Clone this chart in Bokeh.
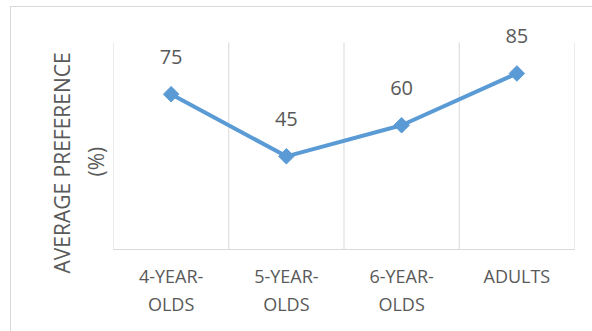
from bokeh.plotting import figure
from bokeh.models import FactorRange, Range1d, ColumnDataSource, LabelSet, Title
from bokeh.core.properties import value
from bokeh.embed import file_html
from bokeh.resources import INLINE
import numpy as np

categories = ["4-YEAR-\nOLDS", "5-YEAR-\nOLDS", "6-YEAR-\nOLDS", "ADULTS"]
values = [75, 45, 60, 85]
value_labels = ["75", "45", "60", "85"]
y_title_1 = "AVERAGE PREFERENCE"
y_title_2 = "(%)"

FONT = "Open Sans"
GRAY = "#595959"
GRID = "#d9d9d9"
BLUE = "#5b9bd5"

Y_MAX = 100
p = figure(width=582, height=325, output_backend="svg", toolbar_location=None,
           x_range=FactorRange(factors=categories, range_padding=0),
           y_range=Range1d(0, 110.1), y_axis_location=None,
           min_border_left=102, min_border_right=19, min_border_top=14, min_border_bottom=83)
p.margin = (6, 0, 0, 10)
p.styles = {"border-left": "1px solid #d9d9d9", "border-top": "1px solid #d9d9d9"}
p.outline_line_color = None
p.background_fill_color = "white"
p.border_fill_color = "white"
p.xgrid.grid_line_color = None
p.ygrid.grid_line_color = None

# vertical grid lines at category boundaries, spanning 0..100
bounds = list(range(len(categories) + 1))
p.segment(x0=bounds, y0=[0] * len(bounds), x1=bounds, y1=[Y_MAX] * len(bounds),
          line_color=GRID, line_width=1)

src = ColumnDataSource(dict(x=categories, y=values, lab=value_labels))
p.line("x", "y", source=src, line_color=BLUE, line_width=4, line_join="round")
p.scatter("x", "y", source=src, marker="square", angle=np.pi / 4, size=11,
          fill_color=BLUE, line_color=BLUE)
labels = LabelSet(x="x", y="y", text="lab", source=src, y_offset=37,
                  text_align="center", text_baseline="middle",
                  text_font=value(FONT), text_font_size="20px", text_color=GRAY)
p.add_layout(labels)

xa = p.xaxis[0]
xa.axis_line_color = GRID
xa.major_tick_line_color = None
xa.minor_tick_line_color = None
xa.major_label_text_font = FONT
xa.major_label_text_font_size = "18px"
xa.major_label_text_color = GRAY
xa.major_label_standoff = 8

for txt, off, so in [(y_title_2, 73, 8), (y_title_1, -24, 0)]:
    t = Title(text=txt, align="left", offset=off, standoff=so,
              text_font=FONT, text_font_size="21px", text_font_style="normal",
              text_color=GRAY)
    p.add_layout(t, "left")

open("out.html", "w").write(file_html(p, INLINE))
